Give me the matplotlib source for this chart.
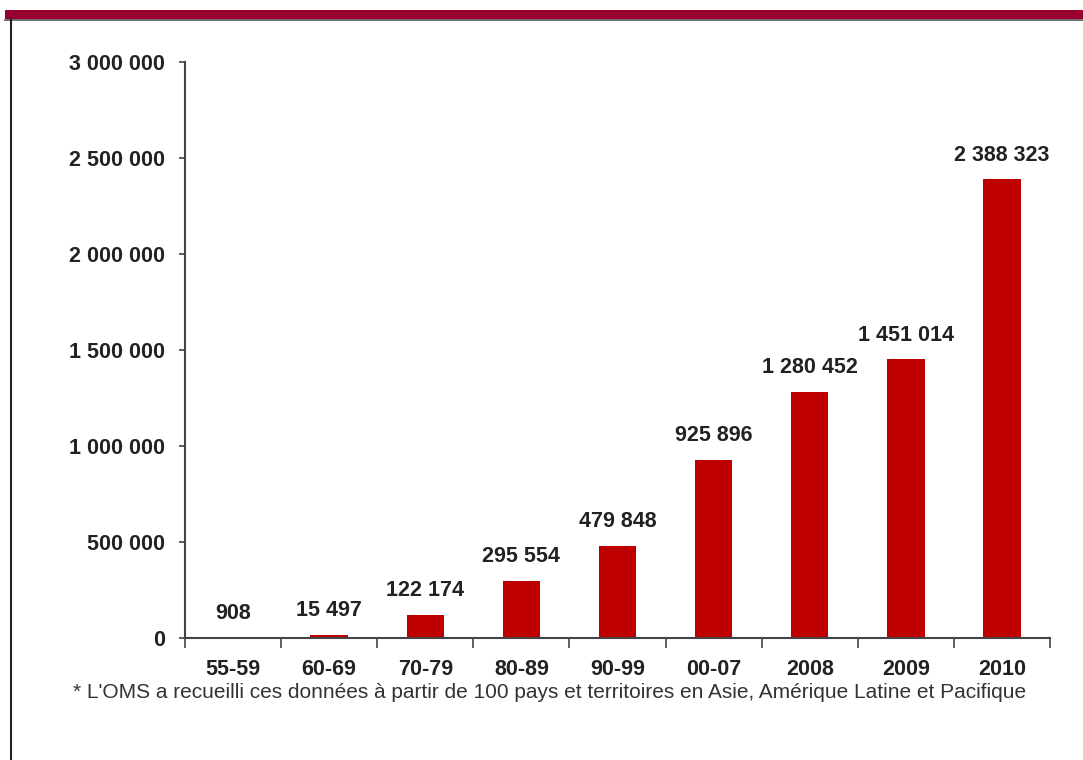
import numpy as np
import matplotlib.pyplot as plt
from matplotlib.patches import Rectangle
from matplotlib.lines import Line2D

# data
categories = ['55-59', '60-69', '70-79', '80-89', '90-99', '00-07', '2008', '2009', '2010']
values = [908, 15497, 122174, 295554, 479848, 925896, 1280452, 1451014, 2388323]
yticks = [0, 500000, 1000000, 1500000, 2000000, 2500000, 3000000]
note = "* L'OMS a recueilli ces données à partir de 100 pays et territoires en Asie, Amérique Latine et Pacifique"


def fmt(v):
    return f'{v:,}'.replace(',', ' ')


plt.rcParams['font.family'] = ['Liberation Sans', 'DejaVu Sans']

W, H = 1083, 760
fig = plt.figure(figsize=(W / 100, H / 100), dpi=100)
fig.patch.set_facecolor('white')

# frame decoration: burgundy band on top, thin line on the left
fig.add_artist(Rectangle((5 / W, 1 - 19 / H), 1, 9 / H, transform=fig.transFigure,
                         facecolor='#99002f', edgecolor='none'))
fig.add_artist(Line2D([5 / W, 1], [1 - 19.5 / H, 1 - 19.5 / H], transform=fig.transFigure,
                      color='#555555', lw=1.2))
fig.add_artist(Line2D([10.5 / W, 10.5 / W], [0, 1 - 19 / H], transform=fig.transFigure,
                      color='#222222', lw=1.5))

ax = fig.add_axes([185 / W, 122 / H, (1050 - 185) / W, (638 - 62) / H])
x = np.arange(len(categories))
ax.bar(x, values, width=0.39, color='#c00000')

ax.set_xlim(-0.5, len(categories) - 0.5)
ax.set_ylim(0, 3000000)

ax.set_yticks(yticks)
ax.set_yticklabels([fmt(v) for v in yticks], fontsize=15.5, fontweight='bold', color='#222222')
ax.set_xticks(x)
ax.set_xticklabels(categories, fontsize=15.5, fontweight='bold', color='#222222')
ax.set_xticks(np.arange(len(categories) + 1) - 0.5, minor=True)
ax.tick_params(axis='x', which='major', length=0, pad=15)
ax.tick_params(axis='x', which='minor', length=7, width=1.2, color='#444444')
ax.tick_params(axis='y', length=4.5, width=1.2, color='#444444', pad=10)

for s in ['top', 'right']:
    ax.spines[s].set_visible(False)
for s in ['left', 'bottom']:
    ax.spines[s].set_color('#444444')
    ax.spines[s].set_linewidth(1.5)

for xi, v in zip(x, values):
    ax.annotate(fmt(v), (xi, v), xytext=(0, 10), textcoords='offset points',
                ha='center', va='bottom', fontsize=15.5, fontweight='bold', color='#222222')

fig.text(550 / W, 1 - 693 / H, note, ha='center', va='center', fontsize=15, color='#333333')

fig.savefig('out.png', dpi=100)
